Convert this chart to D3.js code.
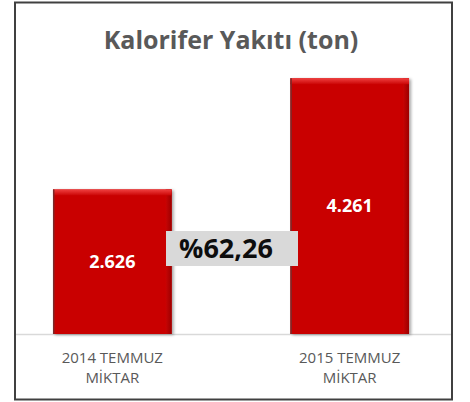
<!DOCTYPE html>
<html>
<head>
<meta charset="utf-8">
<script src="https://cdn.jsdelivr.net/npm/d3@7"></script>
<style>
  html, body { margin: 0; padding: 0; background: #fff; }
  svg { display: block; font-family: "Open Sans", "Liberation Sans", sans-serif; }
</style>
</head>
<body>
<div id="chart"></div>
<script>
const title = "Kalorifer Yakıtı (ton)";
const categories = [["2014 TEMMUZ", "MİKTAR"], ["2015 TEMMUZ", "MİKTAR"]];
const values = [2626, 4261];
const changeLabel = "%62,26";
const yDomain = [500, 4500];

const width = 470, height = 402;

const trLocale = d3.formatLocale({ decimal: ",", thousands: ".", grouping: [3], currency: ["", " TL"] });
const fmt = trLocale.format(",d");

const svg = d3.select("#chart").append("svg")
  .attr("width", width)
  .attr("height", height);

const defs = svg.append("defs");

// bevel-ish shading for the bars
const topGrad = defs.append("linearGradient").attr("id", "topBevel")
  .attr("x1", 0).attr("y1", 0).attr("x2", 0).attr("y2", 1);
topGrad.append("stop").attr("offset", "0%").attr("stop-color", "#f04040");
topGrad.append("stop").attr("offset", "100%").attr("stop-color", "#cb0505");

const rightGrad = defs.append("linearGradient").attr("id", "rightBevel")
  .attr("x1", 0).attr("y1", 0).attr("x2", 1).attr("y2", 0);
rightGrad.append("stop").attr("offset", "0%").attr("stop-color", "#c80404");
rightGrad.append("stop").attr("offset", "100%").attr("stop-color", "#9c0000");

const shadow = defs.append("filter").attr("id", "shadow")
  .attr("x", "-10%").attr("y", "-10%").attr("width", "130%").attr("height", "120%");
shadow.append("feDropShadow")
  .attr("dx", 2).attr("dy", 1).attr("stdDeviation", 1.5)
  .attr("flood-color", "#000").attr("flood-opacity", 0.35);

// outer frame
svg.append("rect")
  .attr("x", 15).attr("y", 2.5)
  .attr("width", 437).attr("height", 397)
  .attr("fill", "#fff")
  .attr("stroke", "#404040")
  .attr("stroke-width", 2);

svg.append("text")
  .attr("x", 231).attr("y", 49)
  .attr("text-anchor", "middle")
  .attr("font-weight", "bold")
  .attr("font-size", 25)
  .attr("fill", "#595959")
  .text(title);

const x = d3.scaleBand()
  .domain(d3.range(values.length))
  .range([15, 447])
  .paddingInner(0.5)
  .paddingOuter(0.16);

const y = d3.scaleLinear()
  .domain(yDomain)
  .range([334, 62]);

// baseline
svg.append("line")
  .attr("x1", 16).attr("x2", 451)
  .attr("y1", y(yDomain[0]) + 0.5).attr("y2", y(yDomain[0]) + 0.5)
  .attr("stroke", "#d9d9d9")
  .attr("stroke-width", 1.5);

const bar = svg.selectAll(".bar")
  .data(values)
  .enter()
  .append("g")
  .attr("class", "bar");

bar.append("rect")
  .attr("x", (d, i) => x(i))
  .attr("y", d => y(d))
  .attr("width", x.bandwidth())
  .attr("height", d => y(yDomain[0]) - y(d))
  .attr("fill", "#c90404")
  .attr("filter", "url(#shadow)");

bar.append("rect")
  .attr("x", (d, i) => x(i) + x.bandwidth() - 6)
  .attr("y", d => y(d))
  .attr("width", 6)
  .attr("height", d => y(yDomain[0]) - y(d))
  .attr("fill", "url(#rightBevel)");

bar.append("rect")
  .attr("x", (d, i) => x(i))
  .attr("y", d => y(d))
  .attr("width", x.bandwidth())
  .attr("height", 6)
  .attr("fill", "url(#topBevel)");

bar.append("rect")
  .attr("x", (d, i) => x(i))
  .attr("y", d => y(d))
  .attr("width", 1.5)
  .attr("height", d => y(yDomain[0]) - y(d))
  .attr("fill", "#7a2a2a");

bar.append("text")
  .attr("x", (d, i) => x(i) + x.bandwidth() / 2)
  .attr("y", d => (y(d) + y(yDomain[0])) / 2 + 6)
  .attr("text-anchor", "middle")
  .attr("font-weight", "bold")
  .attr("font-size", 18)
  .attr("fill", "#fff")
  .text(d => fmt(d));

// category labels
const cat = svg.selectAll(".cat")
  .data(categories)
  .enter()
  .append("text")
  .attr("class", "cat")
  .attr("text-anchor", "middle")
  .attr("font-size", 15)
  .attr("fill", "#595959");

cat.selectAll("tspan")
  .data((d, i) => d.map(t => ({ t, i })))
  .enter()
  .append("tspan")
  .attr("x", d => x(d.i) + x.bandwidth() / 2)
  .attr("y", (d, j) => 363 + j * 20)
  .text(d => d.t);

// change box
svg.append("rect")
  .attr("x", 166).attr("y", 231)
  .attr("width", 132).attr("height", 35)
  .attr("fill", "#d9d9d9");

svg.append("text")
  .attr("x", 226).attr("y", 258)
  .attr("text-anchor", "middle")
  .attr("font-weight", "bold")
  .attr("font-size", 27)
  .attr("fill", "#0d0d0d")
  .text(changeLabel);
</script>
</body>
</html>
